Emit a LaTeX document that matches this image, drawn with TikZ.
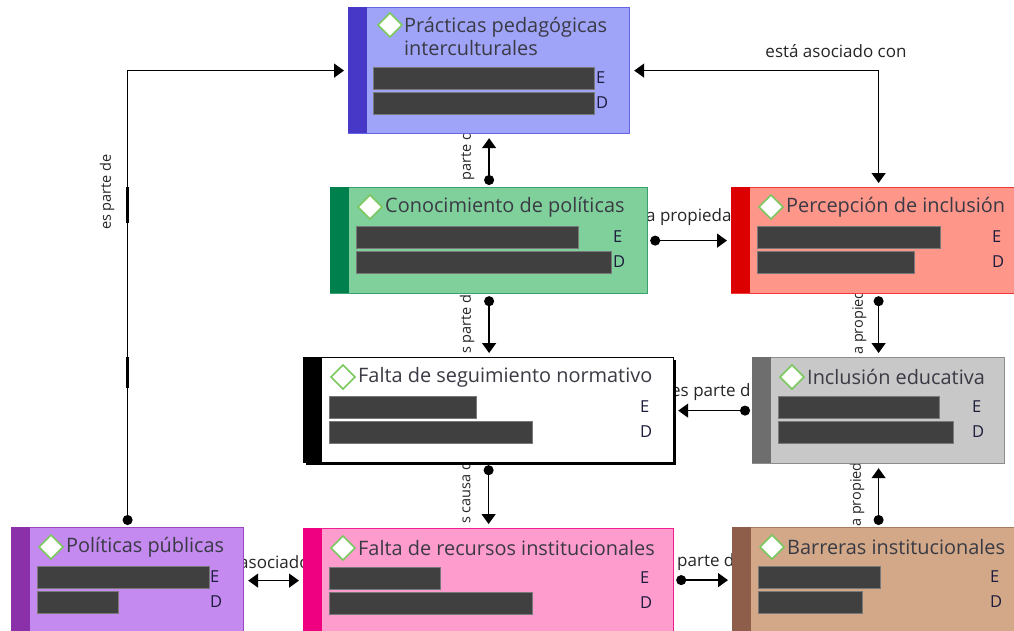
\documentclass[tikz,border=0pt]{standalone}
\usepackage{fontspec}
\setmainfont{Open Sans}
\usetikzlibrary{arrows.meta}

\definecolor{pracF}{HTML}{A0A4F8}\definecolor{pracB}{HTML}{4838C8}\definecolor{pracL}{HTML}{6464E6}
\definecolor{conocF}{HTML}{80D09C}\definecolor{conocB}{HTML}{00804C}\definecolor{conocL}{HTML}{3AA070}
\definecolor{percF}{HTML}{FF968A}\definecolor{percB}{HTML}{DC0000}\definecolor{percL}{HTML}{F03838}
\definecolor{faltaF}{HTML}{FFFFFF}\definecolor{faltaB}{HTML}{000000}\definecolor{faltaL}{HTML}{000000}
\definecolor{inclF}{HTML}{C8C8C8}\definecolor{inclB}{HTML}{6E6E6E}\definecolor{inclL}{HTML}{8C8C8C}
\definecolor{polF}{HTML}{C48AF0}\definecolor{polB}{HTML}{8A30A8}\definecolor{polL}{HTML}{9A48C0}
\definecolor{recF}{HTML}{FF9CCE}\definecolor{recB}{HTML}{EE0080}\definecolor{recL}{HTML}{F02090}
\definecolor{barrF}{HTML}{D2A888}\definecolor{barrB}{HTML}{8E5E4A}\definecolor{barrL}{HTML}{A87A60}
\definecolor{redactgray}{HTML}{404040}
\definecolor{titlegray}{HTML}{3A3A44}
\definecolor{edblue}{HTML}{1C1C3C}
\definecolor{diamgreen}{HTML}{7CC860}

\tikzset{
  cbox/.style={rectangle, inner sep=0pt, line width=1.2pt},
  diamondmark/.style={draw=diamgreen, fill=white, line width=1.5pt, line join=miter},
  titletext/.style={inner sep=0pt, text=titlegray, font=\fontsize{19.9}{22}\selectfont},
  edtext/.style={inner sep=0pt, text=edblue, font=\fontsize{16.5}{18}\selectfont},
  redact/.style={fill=redactgray, draw=redactgray!70, line width=0.6pt},
  lbl/.style={inner sep=1pt, fill=white, text=black!85, font=\fontsize{17}{19}\selectfont},
  vlbl/.style={lbl, rotate=90, font=\fontsize{14.5}{17}\selectfont},
  conn/.style={draw=black, line width=1.5pt, {Circle[length=10pt]}-{Triangle[width=14pt,length=10pt]}, shorten <=2pt, shorten >=4pt},
  biconn/.style={draw=black, line width=1.5pt, {Triangle[width=14pt,length=10pt]}-{Triangle[width=14pt,length=10pt]}, shorten <=4pt, shorten >=4pt},
}

% name, x1, y1, x2, y2, title, len1, len2, E x
\newcommand\conceptbox[9]{%
  \node[cbox, fill=#1F, draw=#1L, minimum width={(#4-#2)*1pt}, minimum height={(#5-#3)*1pt}, anchor=north west] (#1) at (#2,#3) {};
  \fill[#1B] (#2,#3) rectangle (#2+19,#5);
  \draw[diamondmark] (#2+40,#3+8) -- (#2+52,#3+20) -- (#2+40,#3+32) -- (#2+28,#3+20) -- cycle;
  \node[titletext, anchor=west] (#1-title) at (#2+55,#3+20) {#6};
  \path[redact] (#2+26,#3+39) rectangle ++(#7,22);
  \path[redact] (#2+26,#3+64) rectangle ++(#8,22);
  \node[edtext, anchor=west] (#1-e) at (#9,#3+50) {E};
  \node[edtext, anchor=west] (#1-d) at (#9,#3+75) {D};
}

\begin{document}
\begin{tikzpicture}[x=1pt,y=-1pt]
\useasboundingbox (0,0) rectangle (1014,630);
\fill[white] (0,0) rectangle (1014,630);
\clip (0,0) rectangle (1014,630);

% connector labels (partly hidden by the boxes)
\node[vlbl, anchor=west] (l1) at (467,182) {parte d};
\node[vlbl, anchor=west] (l2) at (467,355) {s parte d};
\node[vlbl, anchor=west] (l3) at (465,525) {s causa d};
\node[lbl, anchor=west] (l4) at (645,217) {a propieda};
\node[vlbl, anchor=west] (l5) at (859,356) {a propied};
\node[vlbl, anchor=west] (l6) at (857,528) {a propied};
\node[lbl, anchor=west] (l7) at (670,392) {es parte d};
\node[lbl, anchor=west] (l8) at (238,562) {asociado};
\node[lbl, anchor=west] (l9) at (676,562) {parte d};
\node[lbl] (l10) at (836,51) {está asociado con};
\node[vlbl, fill=none] (l11) at (107,192) {es parte de};

% Prácticas pedagógicas interculturales
\node[cbox, fill=pracF, draw=pracL, minimum width=281pt, minimum height=126pt, anchor=north west] (prac) at (348,7) {};
\fill[pracB] (348,7) rectangle (367,133);
\draw[diamondmark] (390,13) -- (402,25) -- (390,37) -- (378,25) -- cycle;
\node[titletext, anchor=north west, align=left, font=\fontsize{19.9}{23}\selectfont] (prac-title) at (404,17) {Prácticas pedagógicas\\interculturales};
\path[redact] (373,67) rectangle (594,89);
\path[redact] (373,92) rectangle (594,114);
\node[edtext, anchor=west] (prac-e) at (596,78) {E};
\node[edtext, anchor=west] (prac-d) at (596,103) {D};

% shadow of the white box
\fill[black] (306,360) rectangle (676,465);

\conceptbox{conoc}{330}{187}{647}{293}{Conocimiento de políticas}{222}{255}{613}
\conceptbox{perc}{731}{187}{1025}{293}{Percepción de inclusión}{183}{157}{992}
\conceptbox{falta}{303}{357}{673}{462}{Falta de seguimiento normativo}{147}{203}{640}
\conceptbox{incl}{752}{357}{1004}{463}{Inclusión educativa}{161}{175}{972}
\conceptbox{pol}{11}{527}{243}{633}{Políticas públicas}{172}{81}{210}
\conceptbox{rec}{303}{528}{673}{631}{Falta de recursos institucionales}{111}{203}{640}
\conceptbox{barr}{732}{527}{1024}{631}{Barreras institucionales}{122}{104}{990}

% connectors
\draw[conn] (conoc.north) -- (conoc.north |- prac.south);
\draw[conn] (conoc.east) -- (perc.west);
\draw[conn] (conoc.south) -- (conoc.south |- falta.north);
\draw[conn] (perc.south) -- (perc.south |- incl.north);
\draw[conn] (incl.west) -- (incl.west -| falta.east);
\draw[conn] (falta.south) -- (falta.south |- rec.north);
\draw[conn] (barr.north) -- (barr.north |- incl.south);
\draw[conn] (rec.east) -- (rec.east -| barr.west);
\draw[biconn] (pol.east) -- (pol.east -| rec.west);
\draw[conn] (pol.north) |- (prac.west);
\draw[biconn] (prac.east) -| (perc.north);

% small thick marks on the long connector
\coordinate (m1a) at (127.5,187); \coordinate (m1b) at (127.5,223);
\coordinate (m2a) at (127.5,357); \coordinate (m2b) at (127.5,388);
\draw[line width=2.6pt] (m1a) -- (m1b);
\draw[line width=2.6pt] (m2a) -- (m2b);
\end{tikzpicture}
\end{document}
